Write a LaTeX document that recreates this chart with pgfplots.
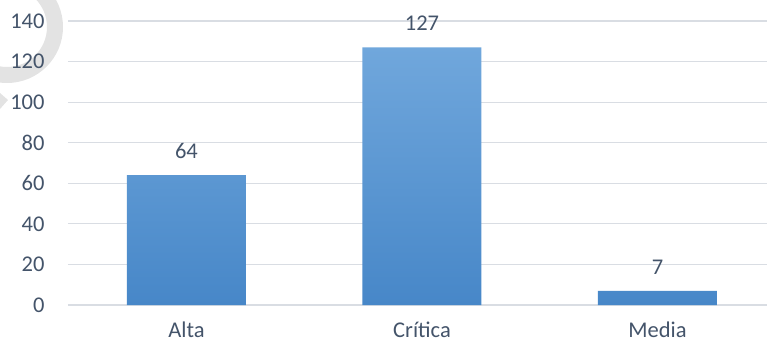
\documentclass[border=0pt]{standalone}
\usepackage{fontspec}
\setmainfont{Carlito}
\usepackage{pgfplots}
\pgfplotsset{compat=1.18}
\definecolor{txt}{HTML}{44546A}
\definecolor{grid}{HTML}{D9DDE3}
\definecolor{bartop}{HTML}{70A7DC}
\definecolor{barbot}{HTML}{4787C8}
\begin{document}
\begin{tikzpicture}
\path[use as bounding box] (-68pt,-43pt) rectangle (699pt,305pt);
\begin{scope}
\clip (-68pt,-43pt) rectangle (699pt,305pt);
\draw[color=black!11, line width=16pt] (-61pt,278pt) circle (48pt);
\fill[color=black!11] (-68pt,212pt) -- (-60pt,205pt) -- (-68pt,196pt) -- cycle;
\end{scope}
\begin{axis}[
  at={(0,0)}, anchor=south west,
  scale only axis,
  width=699pt, height=284pt,
  xmin=-0.503, xmax=2.465,
  ymin=0, ymax=140,
  ytick={0,20,...,140},
  xtick={0,1,2},
  xticklabels={Alta,Crítica,Media},
  axis line style={draw=none},
  major tick length=0pt,
  ymajorgrids,
  grid style={color=grid, line width=1.2pt},
  tick label style={font=\fontsize{22.5}{24}\selectfont, text=txt},
  /pgf/number format/assume math mode=true,
  yticklabel style={xshift=-20pt},
  xticklabel style={text height=17pt, text depth=5pt, yshift=-11.5pt},
  nodes near coords,
  every node near coord/.append style={font=\fontsize{22.5}{24}\selectfont, text=txt, yshift=13pt},
  clip=false,
]
\addplot[ybar, bar width=119pt, draw=none, top color=bartop, bottom color=barbot]
  coordinates {(0,64) (1,127) (2,7)};
\end{axis}
\end{tikzpicture}
\end{document}
